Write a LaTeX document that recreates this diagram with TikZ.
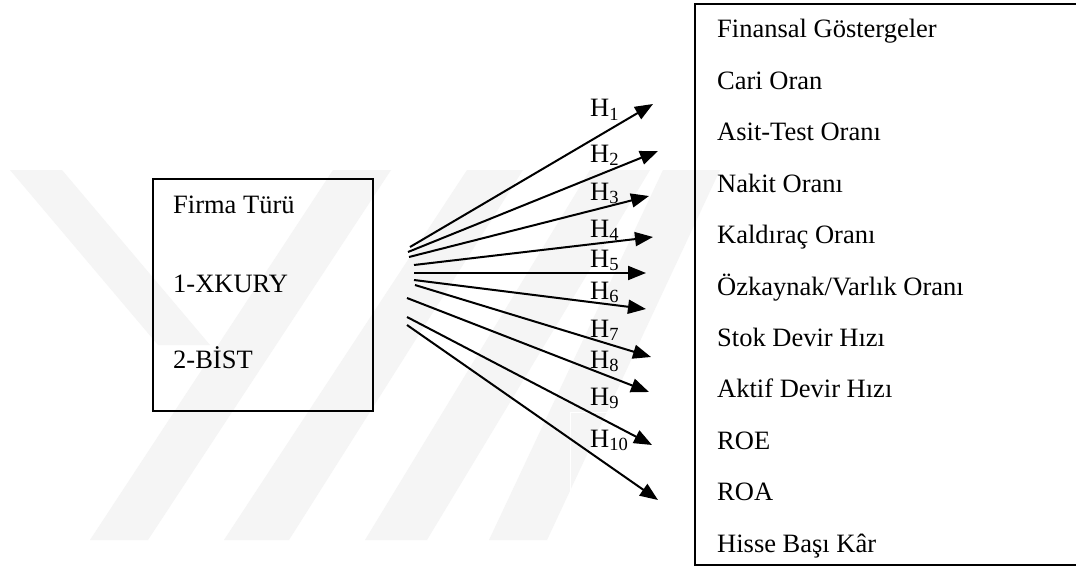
\documentclass[tikz,border=0pt]{standalone}
\usepackage{fontspec}
\setmainfont{Liberation Serif}
\usetikzlibrary{arrows.meta}
\definecolor{wm}{RGB}{245,245,245}
\begin{document}
\begin{tikzpicture}[x=1pt,y=-1pt,
  lbl/.style={anchor=base west, font=\fontsize{26.5}{30}\selectfont, inner sep=0pt},
  arr/.style={line width=2pt, -{Triangle[length=18pt,width=14pt]}},
  frame/.style={draw, line width=2.4pt, inner sep=0pt},
  wmark/.style={fill=wm, draw=none}]
\useasboundingbox (0,0) rectangle (1076,567);
\clip (0,0) rectangle (1076,567);
\fill[white] (0,0) rectangle (1076,567);
% faint watermark
\fill[wmark] (10,170) -- (62,170) -- (210,345) -- (158,345) -- cycle;
\fill[wmark] (90,540) -- (148,540) -- (391,170) -- (333,170) -- cycle;
\fill[wmark] (224,540) -- (289,540) -- (523,170) -- (467,170) -- cycle;
\fill[wmark] (365,540) -- (427,540) -- (650,170) -- (590,170) -- cycle;
\fill[wmark] (489,540) -- (547,540) -- (720,170) -- (663,170) -- cycle;
\draw[white, line width=1pt] (570,412) rectangle (658,508);
% boxes
\node[frame, minimum width=220pt, minimum height=232pt] (firm) at (263,295) {};
\node[frame, minimum width=430pt, minimum height=561pt] (fin) at (910,284.5) {};
% left texts
\node[lbl] (ft) at (173,213) {Firma Türü};
\node[lbl] (xk) at (173,292) {1-XKURY};
\node[lbl] (bi) at (173,368) {2-BİST};
% right texts
\node[lbl] (r0) at (717,38) {Finansal Göstergeler};
\node[lbl] (r1) at (717,89.4) {Cari Oran};
\node[lbl] (r2) at (717,140.8) {Asit-Test Oranı};
\node[lbl] (r3) at (717,192.2) {Nakit Oranı};
\node[lbl] (r4) at (717,243.6) {Kaldıraç Oranı};
\node[lbl] (r5) at (717,295) {Özkaynak/Varlık Oranı};
\node[lbl] (r6) at (717,346.4) {Stok Devir Hızı};
\node[lbl] (r7) at (717,397.8) {Aktif Devir Hızı};
\node[lbl] (r8) at (717,449.2) {ROE};
\node[lbl] (r9) at (717,500.6) {ROA};
\node[lbl] (r10) at (717,552) {Hisse Başı Kâr};
% arrow end points
\coordinate (s1) at (410,247);  \coordinate (e1) at (653,104);
\coordinate (s2) at (408,252);  \coordinate (e2) at (658,151);
\coordinate (s3) at (409,257);  \coordinate (e3) at (649,196);
\coordinate (s4) at (414,265);  \coordinate (e4) at (653,237);
\coordinate (s5) at (414,273);  \coordinate (e5) at (646,273);
\coordinate (s6) at (414,280);  \coordinate (e6) at (646,309);
\coordinate (s7) at (415,285);  \coordinate (e7) at (651,357);
\coordinate (s8) at (407,298);  \coordinate (e8) at (649,392);
\coordinate (s9) at (407,317);  \coordinate (e9) at (652,445);
\coordinate (s10) at (407,325); \coordinate (e10) at (658,500);
\foreach \i in {1,...,10} \draw[arr] (s\i) -- (e\i);
% labels
\node[lbl] (h1) at (590,117) {H\textsubscript{1}};
\node[lbl] (h2) at (590,162) {H\textsubscript{2}};
\node[lbl] (h3) at (590,200) {H\textsubscript{3}};
\node[lbl] (h4) at (590,237) {H\textsubscript{4}};
\node[lbl] (h5) at (590,267) {H\textsubscript{5}};
\node[lbl] (h6) at (590,299) {H\textsubscript{6}};
\node[lbl] (h7) at (590,337) {H\textsubscript{7}};
\node[lbl] (h8) at (590,368) {H\textsubscript{8}};
\node[lbl] (h9) at (590,405) {H\textsubscript{9}};
\node[lbl] (h10) at (590,447) {H\textsubscript{10}};
\end{tikzpicture}
\end{document}
